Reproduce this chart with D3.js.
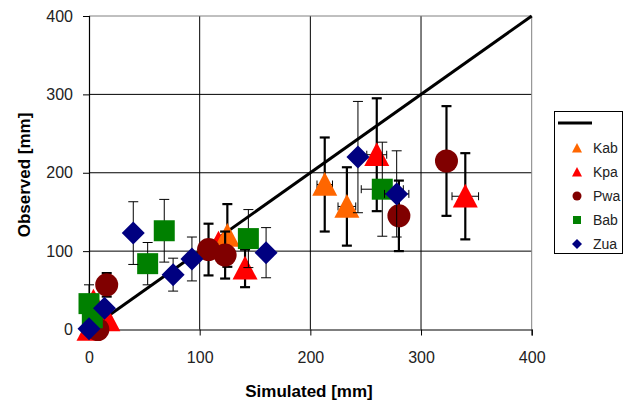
<!DOCTYPE html>
<html>
<head>
<meta charset="utf-8">
<script src="https://cdn.jsdelivr.net/npm/d3@7"></script>
<style>
  body { margin: 0; background: #fff; }
  text { font-family: "Liberation Sans", Arial, sans-serif; }
</style>
</head>
<body>
<div id="chart"></div>
<script>
// each point: [simulated, observed, y error, x error]
const kpa = [[0, 0, 0, 0], [17, 12, 0, 0], [4, 36, 0, 0], [117, 110, 0, 0], [141, 78, 24, 0], [260, 223, 72, 9], [340, 170, 55, 12]];
const kab = [[125, 120, 40, 0], [213, 185, 60, 7], [233, 157, 50, 8]];
const pwa = [[8, 0, 0, 0], [16, 57, 15, 0], [108, 102, 33, 0], [123, 95, 30, 0], [280, 145, 45, 0], [323, 215, 70, 0]];
const bab = [[0, 33, 24, 0], [3, 15, 0, 0], [53, 84, 27, 0], [68, 126, 40, 0], [144, 116, 37, 0], [265, 179, 60, 19]];
const zua = [[0, 1, 0, 0], [14, 27, 0, 0], [40, 123, 40, 0], [76, 70, 21, 0], [93, 90, 28, 0], [160, 98, 32, 0], [243, 220, 71, 0], [278, 173, 55, 11]];

const ticks = [0, 100, 200, 300, 400];
const legendNames = ["Kab", "Kpa", "Pwa", "Bab", "Zua"];

const width = 628, height = 403;
const svg = d3.select("#chart").append("svg")
    .attr("width", width)
    .attr("height", height);

const x = d3.scaleLinear().domain([0, 400]).range([89, 531.7]);
const y = d3.scaleLinear().domain([0, 400]).range([329.5, 16]);

// gridlines
svg.selectAll(".vgrid")
    .data([100, 200, 300])
    .enter().append("line")
    .attr("x1", d => x(d)).attr("x2", d => x(d))
    .attr("y1", y(0)).attr("y2", y(400))
    .attr("stroke", "#000").attr("stroke-width", 1);
svg.selectAll(".hgrid")
    .data([100, 200, 300])
    .enter().append("line")
    .attr("x1", x(0)).attr("x2", x(400))
    .attr("y1", d => y(d)).attr("y2", d => y(d))
    .attr("stroke", "#000").attr("stroke-width", 1);
// plot border top/right grey
svg.append("line").attr("x1", x(0)).attr("x2", x(400)).attr("y1", y(400)).attr("y2", y(400))
    .attr("stroke", "#808080");
svg.append("line").attr("x1", x(400)).attr("x2", x(400)).attr("y1", y(0)).attr("y2", y(400))
    .attr("stroke", "#808080");

// axes
const xAxis = svg.append("g")
    .attr("transform", `translate(0,${y(0)})`)
    .call(d3.axisBottom(x).tickValues(ticks).tickSize(6).tickPadding(16));
const yAxis = svg.append("g")
    .attr("transform", `translate(${x(0)},0)`)
    .call(d3.axisLeft(y).tickValues(ticks).tickSize(6).tickPadding(10));
[xAxis, yAxis].forEach(a => {
  a.select(".domain").attr("stroke", "#000").attr("stroke-width", 1.2);
  a.selectAll(".tick line").attr("stroke", "#000");
  a.selectAll("text").attr("font-size", 16).attr("fill", "#222")
      .attr("font-family", "Liberation Sans, Arial, sans-serif");
});

// 1:1 line
svg.append("line")
    .attr("x1", x(0)).attr("y1", y(0))
    .attr("x2", x(400)).attr("y2", y(400))
    .attr("stroke", "#000").attr("stroke-width", 3);

// marker shapes
function markerPath(type, s) {
  const h = s / 2;
  if (type === "tri") return `M0,${-h}L${h},${h * 0.9}L${-h},${h * 0.9}Z`;
  if (type === "dia") return `M0,${-h}L${h},0L0,${h}L${-h},0Z`;
  if (type === "sq") return `M${-h},${-h}H${h}V${h}H${-h}Z`;
  return null;
}

const series = [
  { name: "Kpa", data: kpa, color: "#ff0000", type: "tri", size: 25, ew: 2.2 },
  { name: "Kab", data: kab, color: "#ff6600", type: "tri", size: 25, ew: 2.2 },
  { name: "Pwa", data: pwa, color: "#800000", type: "circ", size: 23, ew: 2.2 },
  { name: "Bab", data: bab, color: "#008000", type: "sq", size: 21, ew: 1 },
  { name: "Zua", data: zua, color: "#000080", type: "dia", size: 23, ew: 1 }
];

series.forEach(s => {
  const g = svg.append("g");
  const pts = s.data.map(d => ({ sx: d[0], sy: d[1], ey: d[2], ex: d[3] }));
  const bars = g.selectAll(".eb").data(pts.filter(p => p.ey > 0)).enter().append("g");
  bars.append("line")
      .attr("x1", p => x(p.sx)).attr("x2", p => x(p.sx))
      .attr("y1", p => y(p.sy - p.ey)).attr("y2", p => y(p.sy + p.ey));
  [-1, 1].forEach(k => {
    bars.append("line")
        .attr("x1", p => x(p.sx) - 5).attr("x2", p => x(p.sx) + 5)
        .attr("y1", p => y(p.sy + k * p.ey)).attr("y2", p => y(p.sy + k * p.ey));
  });
  bars.selectAll("line").attr("stroke", "#000").attr("stroke-width", s.ew);

  const xb = g.selectAll(".xb").data(pts.filter(p => p.ex > 0)).enter().append("g");
  xb.append("line")
      .attr("x1", p => x(p.sx - p.ex)).attr("x2", p => x(p.sx + p.ex))
      .attr("y1", p => y(p.sy)).attr("y2", p => y(p.sy));
  [-1, 1].forEach(k => {
    xb.append("line")
        .attr("x1", p => x(p.sx + k * p.ex)).attr("x2", p => x(p.sx + k * p.ex))
        .attr("y1", p => y(p.sy) - 4).attr("y2", p => y(p.sy) + 4);
  });
  xb.selectAll("line").attr("stroke", "#000").attr("stroke-width", 1);

  if (s.type === "circ") {
    g.selectAll(".m").data(pts).enter().append("circle")
        .attr("cx", p => x(p.sx)).attr("cy", p => y(p.sy))
        .attr("r", s.size / 2).attr("fill", s.color);
  } else {
    g.selectAll(".m").data(pts).enter().append("path")
        .attr("d", markerPath(s.type, s.size))
        .attr("transform", p => `translate(${x(p.sx)},${y(p.sy)})`)
        .attr("fill", s.color);
  }
});

// axis titles
svg.append("text")
    .attr("x", 309).attr("y", 397)
    .attr("text-anchor", "middle")
    .attr("font-size", 17).attr("font-weight", "bold")
    .text("Simulated [mm]");
svg.append("text")
    .attr("transform", "translate(30,175) rotate(-90)")
    .attr("text-anchor", "middle")
    .attr("font-size", 17).attr("font-weight", "bold")
    .text("Observed [mm]");

// legend
const lg = svg.append("g");
lg.append("rect")
    .attr("x", 554.5).attr("y", 111.5).attr("width", 68).attr("height", 142)
    .attr("fill", "#fff").attr("stroke", "#000");
lg.append("line")
    .attr("x1", 558).attr("x2", 592).attr("y1", 123).attr("y2", 123)
    .attr("stroke", "#000").attr("stroke-width", 3);
const legendStyle = {
  Kab: series[1], Kpa: series[0], Pwa: series[2], Bab: series[3], Zua: series[4]
};
legendNames.forEach((name, i) => {
  const s = legendStyle[name];
  const cy = 148 + i * 24;
  if (s.type === "circ") {
    lg.append("circle").attr("cx", 577).attr("cy", cy).attr("r", 4.5).attr("fill", s.color);
  } else {
    lg.append("path").attr("d", markerPath(s.type, s.type === "sq" ? 8 : 10))
        .attr("transform", `translate(577,${cy})`).attr("fill", s.color);
  }
  lg.append("text")
      .attr("x", 593).attr("y", cy + 5)
      .attr("font-size", 14).attr("fill", "#222")
      .text(name);
});
</script>
</body>
</html>
